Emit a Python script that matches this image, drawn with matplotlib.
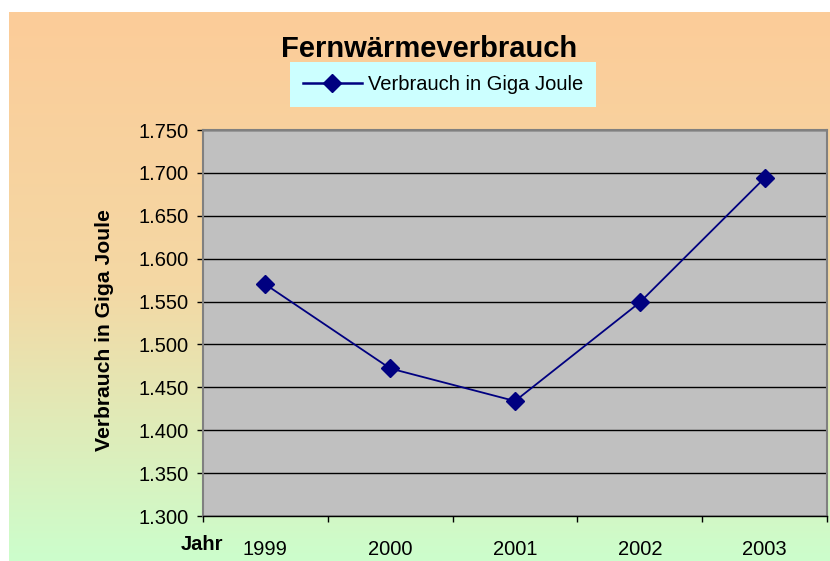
import numpy as np
from matplotlib import pyplot as plt
from matplotlib.colors import LinearSegmentedColormap
from matplotlib.ticker import FixedLocator, FuncFormatter

plt.rcParams['font.family'] = ['Liberation Sans', 'DejaVu Sans']

# Daten: Fernwärmeverbrauch in Giga Joule
jahre = ['1999', '2000', '2001', '2002', '2003']
verbrauch = [1570, 1472, 1434, 1549, 1694]
y_min, y_max, y_step = 1300, 1750, 50

W, H = 830, 561
fig = plt.figure(figsize=(W / 100, H / 100), dpi=100)
fig.patch.set_facecolor('white')

# Hintergrund mit Farbverlauf (orange -> hellgrün)
bg = fig.add_axes([9 / W, 0, 1 - 9 / W, 1 - 12 / H])
bg.set_axis_off()
cmap = LinearSegmentedColormap.from_list('bg', ['#FCCC99', '#F4D8A4', '#CCFECC'])
grad = np.linspace(0, 1, 256).reshape(-1, 1)
bg.imshow(grad, aspect='auto', cmap=cmap, extent=[0, 1, 0, 1], origin='upper')
bg.set_zorder(0)

# Diagrammfläche
left, right, top, bottom = 203, 827, 130, 516
ax = fig.add_axes([left / W, 1 - bottom / H, (right - left) / W, (bottom - top) / H])
ax.set_zorder(1)
ax.set_facecolor('#C0C0C0')

x = np.arange(len(jahre))
ax.plot(x, verbrauch, color='#000080', lw=1.3, marker='D', markersize=9,
        label='Verbrauch in Giga Joule', zorder=3)

ax.set_xlim(-0.5, len(jahre) - 0.5)
ax.set_ylim(y_min, y_max)

yticks = np.arange(y_min, y_max + 1, y_step)
ax.yaxis.set_major_locator(FixedLocator(yticks))
ax.yaxis.set_major_formatter(FuncFormatter(lambda v, p: f'{v:,.0f}'.replace(',', '.')))
ax.grid(axis='y', color='black', lw=1, zorder=1)
ax.set_axisbelow(True)

ax.xaxis.set_major_locator(FixedLocator(np.arange(-0.5, len(jahre), 1)))
ax.xaxis.set_major_formatter(FuncFormatter(lambda v, p: ''))
ax.xaxis.set_minor_locator(FixedLocator(x))
ax.set_xticklabels(jahre, minor=True)

ax.tick_params(axis='y', direction='out', length=4.5, width=1, pad=6, labelsize=14.5)
ax.tick_params(axis='x', which='major', direction='out', length=4.5, width=1)
ax.tick_params(axis='x', which='minor', length=0, pad=17, labelsize=14.5)

for s in ['top', 'right', 'left']:
    ax.spines[s].set_color('#808080')
    ax.spines[s].set_linewidth(1.5)
ax.spines['bottom'].set_color('black')
ax.spines['bottom'].set_linewidth(1)

fig.text(429 / W, 1 - 49 / H, 'Fernwärmeverbrauch', ha='center', va='center',
         fontsize=21, fontweight='bold')
fig.text(105 / W, 1 - 330 / H, 'Verbrauch in Giga Joule', ha='center', va='center',
         rotation=90, fontsize=15.2, fontweight='bold')
fig.text(202 / W, 1 - 545 / H, 'Jahr', ha='center', va='center',
         fontsize=14.5, fontweight='bold')

leg = fig.legend(loc='center', bbox_to_anchor=(443 / W, 1 - 84.5 / H), fontsize=14.5,
                 frameon=True, fancybox=False, framealpha=1, facecolor='#CCFFFF',
                 edgecolor='none', handlelength=2.9, handletextpad=0.3,
                 borderpad=0.65, borderaxespad=0)
leg.set_zorder(2)
for h in leg.legend_handles:
    h.set_linewidth(1.8)

fig.savefig('out.png', dpi=100)
